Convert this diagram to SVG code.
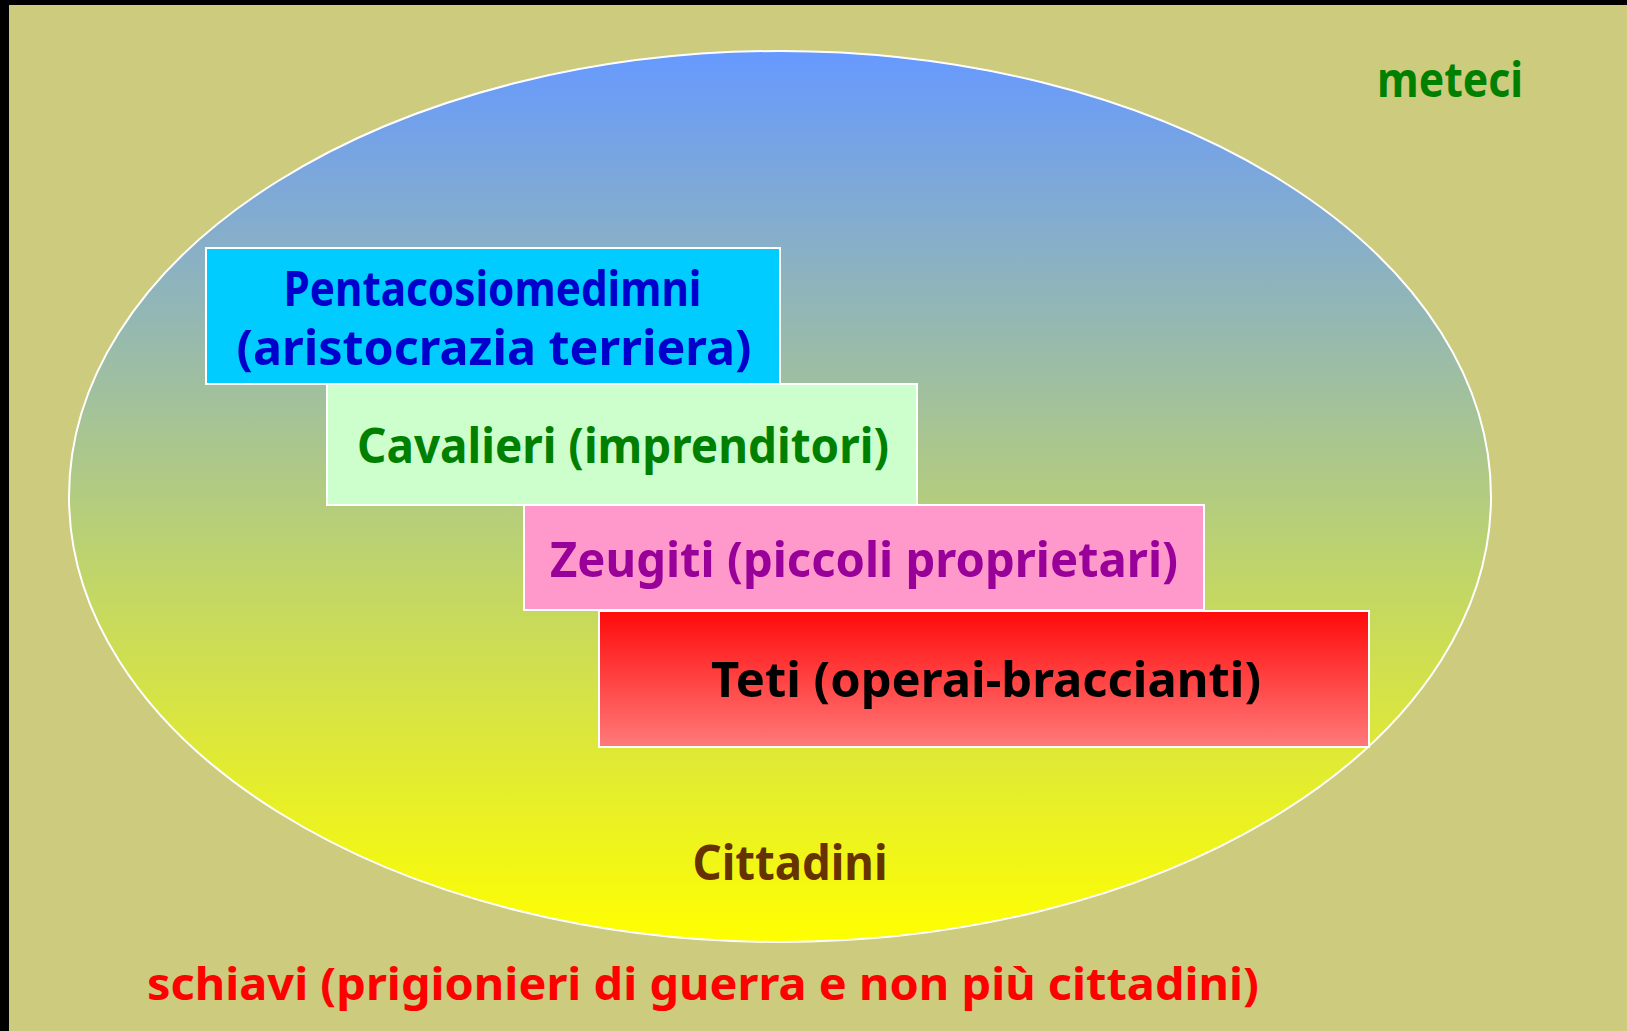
<svg xmlns="http://www.w3.org/2000/svg" width="1627" height="1031" viewBox="0 0 1627 1031">
<defs>
<linearGradient id="gEll" x1="0" y1="0" x2="0" y2="1">
<stop offset="0" stop-color="#6699FF"/>
<stop offset="1" stop-color="#FFFF00"/>
</linearGradient>
<linearGradient id="gRed" x1="0" y1="0" x2="0" y2="1">
<stop offset="0" stop-color="#FF0A0A"/>
<stop offset="1" stop-color="#FF7A7A"/>
</linearGradient>
<style>
.t{font-family:"Comic Sans MS","Noto Sans","DejaVu Sans",sans-serif;font-weight:bold;text-anchor:middle}
.box{stroke:#FFFFFF;stroke-width:2}
</style>
</defs>
<rect x="0" y="0" width="1627" height="1031" fill="#000000"/>
<rect x="9" y="5" width="1618" height="1026" fill="#CDCB7D"/>
<g id="cittadini">
<ellipse cx="780" cy="496.5" rx="711" ry="445.5" fill="url(#gEll)" stroke="#FFFFFF" stroke-width="2"/>
<text class="t" x="790" y="880" font-size="48" fill="#663300" textLength="195" lengthAdjust="spacingAndGlyphs">Cittadini</text>
</g>
<g id="pentacosiomedimni">
<rect class="box" x="206" y="248" width="574" height="136" fill="#00CCFF"/>
<text class="t" font-size="49" fill="#0000CC"><tspan x="492.5" y="306" textLength="418" lengthAdjust="spacingAndGlyphs">Pentacosiomedimni</tspan><tspan x="494" y="365" textLength="515" lengthAdjust="spacingAndGlyphs">(aristocrazia terriera)</tspan></text>
</g>
<g id="cavalieri">
<rect class="box" x="327" y="384" width="590" height="121" fill="#CCFFCC"/>
<text class="t" x="623" y="463" font-size="49" fill="#008000" textLength="532" lengthAdjust="spacingAndGlyphs">Cavalieri (imprenditori)</text>
</g>
<g id="zeugiti">
<rect class="box" x="524" y="505" width="680" height="105" fill="#FF99CC"/>
<text class="t" x="864" y="577" font-size="49" fill="#990099" textLength="628" lengthAdjust="spacingAndGlyphs">Zeugiti (piccoli proprietari)</text>
</g>
<g id="teti">
<rect class="box" x="599" y="611" width="770" height="136" fill="url(#gRed)"/>
<text class="t" x="986" y="697" font-size="49" fill="#000000" textLength="550" lengthAdjust="spacingAndGlyphs">Teti (operai-braccianti)</text>
</g>
<g id="meteci">
<text class="t" x="1450" y="97" font-size="48" fill="#008000" textLength="146" lengthAdjust="spacingAndGlyphs">meteci</text>
</g>
<g id="schiavi">
<text class="t" x="703" y="1000" font-size="45" fill="#FF0000" textLength="1112" lengthAdjust="spacingAndGlyphs">schiavi (prigionieri di guerra e non più cittadini)</text>
</g>
<g id="connectors"/>
</svg>
